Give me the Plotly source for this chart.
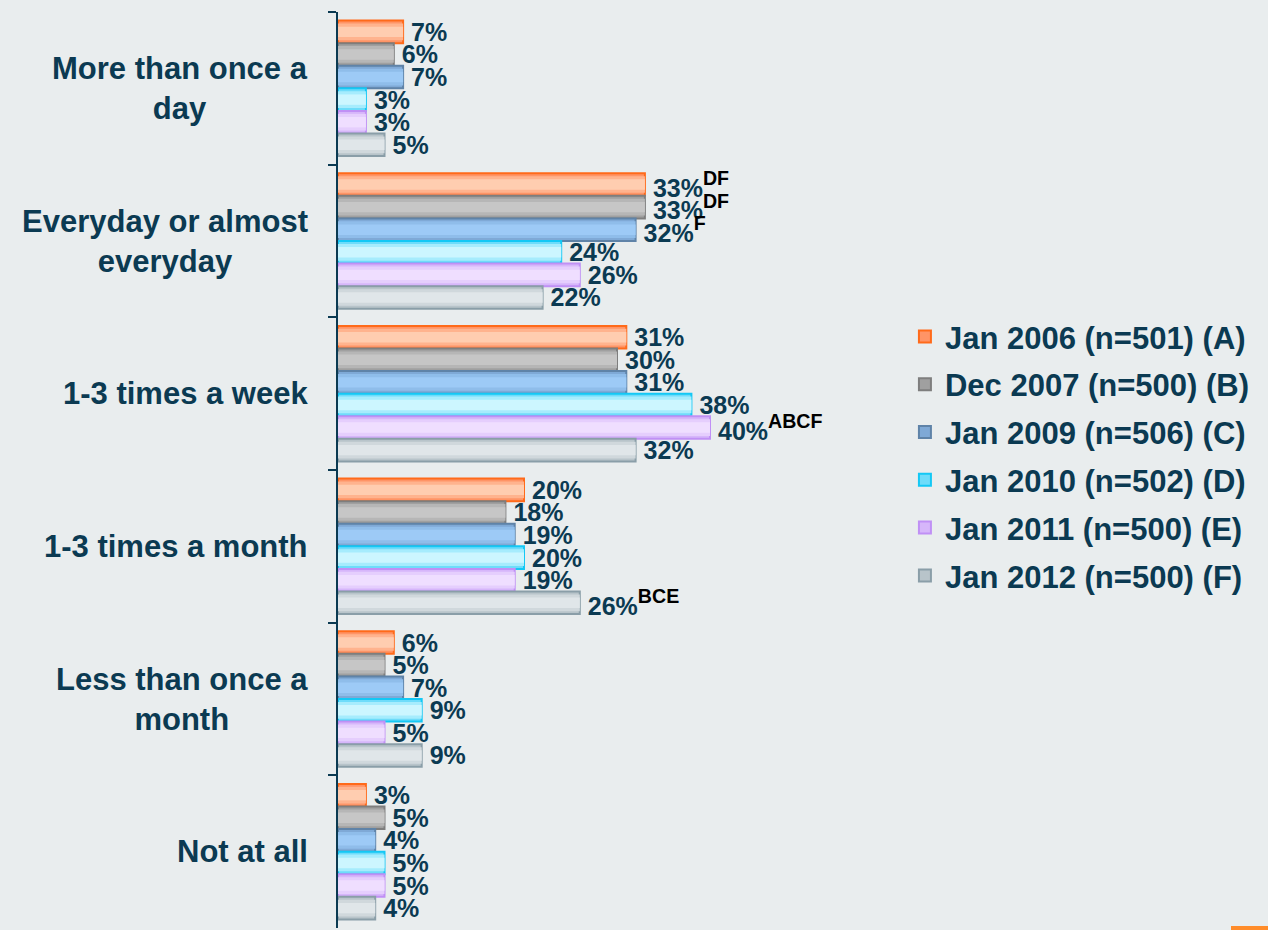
import plotly.graph_objects as go

categories = ["More than once a day", "Everyday or almost everyday", "1-3 times a week",
              "1-3 times a month", "Less than once a month", "Not at all"]
category_labels = ["More than once a<br>day", "Everyday or almost<br>everyday", "1-3 times a week",
                   "1-3 times a month", "Less than once a<br>month", "Not at all"]

series_names = ["Jan 2006 (n=501) (A)", "Dec 2007 (n=500) (B)", "Jan 2009 (n=506) (C)",
                "Jan 2010 (n=502) (D)", "Jan 2011 (n=500) (E)", "Jan 2012 (n=500) (F)"]

jan2006 = [7, 33, 31, 20, 6, 3]
dec2007 = [6, 33, 30, 18, 5, 5]
jan2009 = [7, 32, 31, 19, 7, 4]
jan2010 = [3, 24, 38, 20, 9, 5]
jan2011 = [3, 26, 40, 19, 5, 5]
jan2012 = [5, 22, 32, 26, 9, 4]

sig_2006 = ["", "DF", "", "", "", ""]
sig_2007 = ["", "DF", "", "", "", ""]
sig_2009 = ["", "F", "", "", "", ""]
sig_2010 = ["", "", "", "", "", ""]
sig_2011 = ["", "", "ABCF", "", "", ""]
sig_2012 = ["", "", "", "BCE", "", ""]

values = [jan2006, dec2007, jan2009, jan2010, jan2011, jan2012]
sigs = [sig_2006, sig_2007, sig_2009, sig_2010, sig_2011, sig_2012]

edge_colors = ["#ff6a1a", "#7e7e7e", "#5f83a8", "#14c8f5", "#c090f5", "#8a9ea8"]
mid_colors = ["#ff9466", "#a0a0a0", "#7fa9d6", "#6edcfa", "#d6b6fa", "#b8c4ca"]
blend_colors = ["#ffb38e", "#b6b6b6", "#8fbdea", "#a6ecfd", "#e5cefd", "#d0d8dc"]
light_colors = ["#ffcdb0", "#c6c6c6", "#9dcaf6", "#ccf6ff", "#efdeff", "#e0e6e9"]

NAVY = "#0b3a52"
BG = "#e9edee"
W = 0.148

fig = go.Figure()
for j, (name, vals, sg) in enumerate(zip(series_names, values, sigs)):
    off = -3 * W + j * W
    texts = []
    for v, s in zip(vals, sg):
        t = f"\u2009{v}%"
        if s:
            t += f"<span style='color:#000000;font-size:28px'><sup>{s}</sup></span>"
        texts.append(t)
    fig.add_trace(go.Bar(
        y=categories, x=vals, orientation="h", name=name,
        width=W, offset=off,
        marker=dict(color=mid_colors[j], line=dict(color=edge_colors[j], width=2)),
        text=texts, textposition="outside", constraintext="none", cliponaxis=False,
        textfont=dict(family="Liberation Sans, Arial", size=25, color=NAVY, weight="bold"),
        legendgroup=f"g{j}", showlegend=True, hoverinfo="skip",
    ))
    fig.add_trace(go.Bar(
        y=categories, x=vals, orientation="h", name=name,
        width=W * 0.74, offset=off + W * 0.13,
        marker=dict(color=blend_colors[j], line=dict(width=0)),
        showlegend=False, legendgroup=f"g{j}", hoverinfo="skip",
    ))
    fig.add_trace(go.Bar(
        y=categories, x=vals, orientation="h", name=name,
        width=W * 0.46, offset=off + W * 0.27,
        marker=dict(color=light_colors[j], line=dict(width=0)),
        showlegend=False, legendgroup=f"g{j}", hoverinfo="skip",
    ))

annotations = []
for c, lab in zip(categories, category_labels):
    annotations.append(dict(
        x=(310 - 338) / 558, xref="paper", y=c, yref="y",
        text=lab, showarrow=False, xanchor="right", yanchor="middle", align="center",
        font=dict(family="Liberation Sans, Arial", size=31, color=NAVY, weight="bold"),
    ))

fig.update_layout(
    width=1268, height=930,
    barmode="overlay",
    paper_bgcolor=BG, plot_bgcolor=BG,
    margin=dict(l=338, r=372, t=12, b=2),
    xaxis=dict(range=[0, 60], visible=False, showgrid=False, zeroline=False),
    yaxis=dict(
        type="category", categoryorder="array", categoryarray=categories,
        autorange="reversed", tickson="boundaries", ticks="outside", ticklen=8,
        tickwidth=2, tickcolor=NAVY, showline=True, linecolor=NAVY, linewidth=2,
        showticklabels=False, showgrid=False, zeroline=False,
    ),
    legend=dict(
        x=1.016, xanchor="left", y=0.515, yanchor="middle",
        font=dict(family="Liberation Sans, Arial", size=31, color=NAVY, weight="bold"),
        tracegroupgap=4.5, bgcolor="rgba(0,0,0,0)",
    ),
    annotations=annotations,
    shapes=[dict(type="rect", xref="paper", yref="paper",
                 x0=(1231 - 338) / 558, x1=(1268 - 338) / 558, y0=-0.003, y1=0.0022,
                 fillcolor="#ff8c2a", line=dict(width=0))],
    showlegend=True,
)

fig.write_html("out.html", config={"displayModeBar": False},
               post_script="document.body.style.margin='0';")
